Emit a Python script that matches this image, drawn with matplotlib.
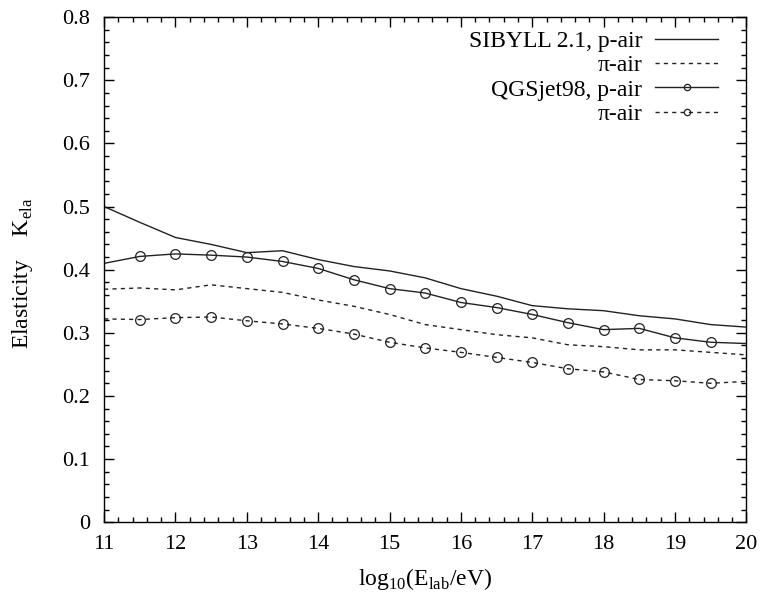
import matplotlib
matplotlib.use("Agg")
import matplotlib.pyplot as plt
from matplotlib.ticker import MultipleLocator

plt.rcParams['font.family'] = 'Liberation Serif'
plt.rcParams['mathtext.fontset'] = 'custom'
plt.rcParams['mathtext.rm'] = 'Liberation Serif'

# energies log10(E/eV)
energy = [11, 11.5, 12, 12.5, 13, 13.5, 14, 14.5, 15, 15.5, 16, 16.5, 17, 17.5, 18, 18.5, 19, 19.5, 20]

sibyll_p = [0.500, 0.475, 0.451, 0.440, 0.427, 0.430, 0.416, 0.405, 0.398, 0.387, 0.370, 0.358, 0.343,
            0.338, 0.335, 0.327, 0.322, 0.313, 0.309]
sibyll_pi = [0.369, 0.371, 0.368, 0.376, 0.370, 0.364, 0.352, 0.342, 0.329, 0.313, 0.305, 0.297, 0.292,
             0.281, 0.278, 0.273, 0.273, 0.269, 0.265]
qgs_p = [0.410, 0.421, 0.425, 0.423, 0.420, 0.413, 0.402, 0.384, 0.370, 0.363, 0.348, 0.340, 0.329,
         0.316, 0.305, 0.307, 0.292, 0.285, 0.283]
qgs_pi = [0.322, 0.321, 0.324, 0.325, 0.319, 0.314, 0.307, 0.298, 0.285, 0.276, 0.269, 0.261, 0.253,
          0.243, 0.238, 0.226, 0.224, 0.220, 0.223]

fig = plt.figure(figsize=(7.6, 5.94), dpi=100)
ax = fig.add_axes([0.137, 0.121, 0.845, 0.850])

dash = (0, (3, 3))
inner = list(range(1, len(energy) - 1))
ax.plot(energy, sibyll_p, color='#222222', lw=1.0, label='SIBYLL 2.1, p-air')
ax.plot(energy, sibyll_pi, color='#222222', lw=1.0, ls=dash, label='\u03c0-air')
ax.plot(energy, qgs_p, color='#222222', lw=1.0, marker='o', mfc='none', ms=7, mew=0.9,
        markevery=inner, label='QGSjet98, p-air')
ax.plot(energy, qgs_pi, color='#222222', lw=1.0, ls=dash, marker='o', mfc='none', ms=7, mew=0.9,
        markevery=inner, label='\u03c0-air')

ax.set_xlim(11, 20)
ax.set_ylim(0, 0.8)
ax.xaxis.set_major_locator(MultipleLocator(1))
ax.xaxis.set_minor_locator(MultipleLocator(0.2))
ax.yaxis.set_major_locator(MultipleLocator(0.1))
ax.yaxis.set_minor_locator(MultipleLocator(0.02))
ax.set_yticklabels([f'{v:g}' for v in ax.get_yticks()])
ax.tick_params(which='both', direction='in', top=True, right=True, labelsize=16, width=1.0)
ax.tick_params(which='major', length=7)
ax.tick_params(which='minor', length=3.6)
ax.tick_params(axis='y', pad=10)
ax.tick_params(axis='x', pad=9)
for s in ax.spines.values():
    s.set_linewidth(1.0)

ax.set_xlabel(r'log$_{10}$(E$_{\mathrm{lab}}$/eV)', fontsize=17, labelpad=9)
ax.set_ylabel(r'Elasticity    K$_{\mathrm{ela}}$', fontsize=17)
ax.yaxis.set_label_coords(-0.107, 0.493)

leg = ax.legend(loc='upper right', bbox_to_anchor=(0.956, 0.974), frameon=False, markerfirst=False,
                fontsize=17, handlelength=2.67, labelspacing=0.12, borderaxespad=0, borderpad=0,
                handletextpad=0.55, markerscale=0.65)

fig.savefig('out.png', dpi=100)
